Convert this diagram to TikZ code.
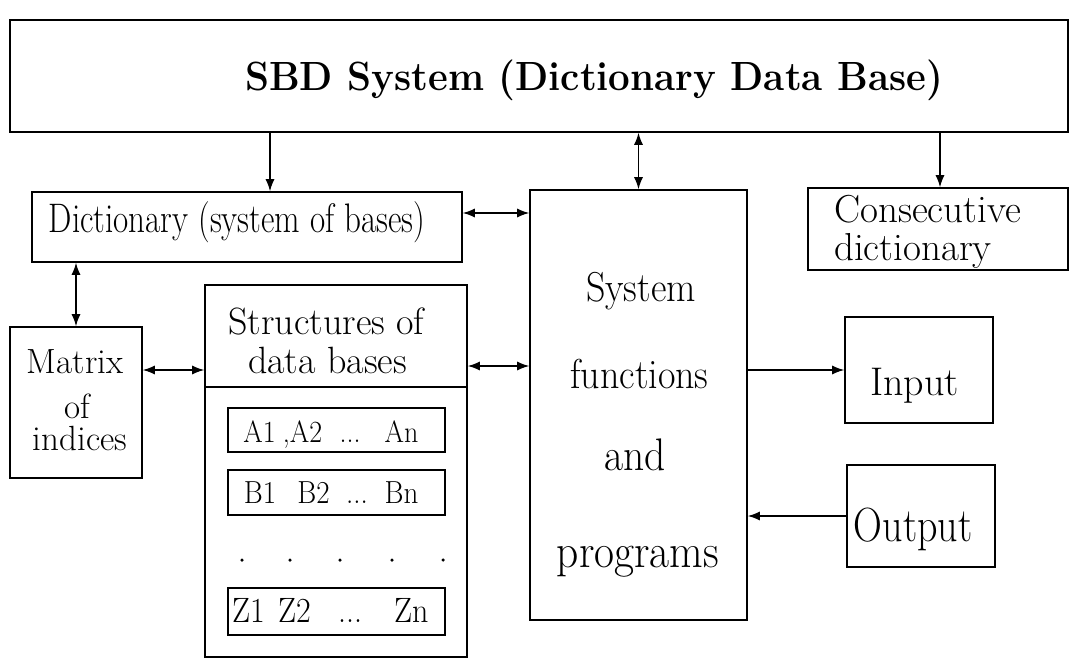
\documentclass[tikz,border=0pt]{standalone}
\usetikzlibrary{arrows.meta}
\newcommand{\tallt}[2][1.1]{\scalebox{1}[#1]{#2}}
\newcommand{\fs}[1]{\fontsize{#1}{#1}\selectfont}
\begin{document}
\begin{tikzpicture}[x=1pt,y=-1pt,
  box/.style={draw, line width=1.6pt, inner sep=0pt},
  txt/.style={inner sep=0pt},
  arr/.style={line width=1.2pt, -{Latex[length=12pt,width=9pt]}},
  barr/.style={line width=1.2pt, {Latex[length=12pt,width=9pt]}-{Latex[length=12pt,width=9pt]}},
  dotn/.style={circle, fill, inner sep=0pt, minimum size=3.5pt}]
\useasboundingbox (0,0) rectangle (1072,661);
% boxes
\node[box, minimum width=1058pt, minimum height=112pt] (top) at (539,76) {};
\node[box, minimum width=430pt, minimum height=70pt] (dict) at (247,227) {};
\node[box, minimum width=217pt, minimum height=430pt] (sys) at (638.5,405) {};
\node[box, minimum width=260pt, minimum height=82pt] (cons) at (938,229) {};
\node[box, minimum width=132pt, minimum height=151pt] (mat) at (76,402.5) {};
\node[box, minimum width=262pt, minimum height=372pt] (str) at (336,471) {};
\node[box, minimum width=217pt, minimum height=44pt] (ra) at (336.5,430) {};
\node[box, minimum width=217pt, minimum height=45pt] (rb) at (336.5,492.5) {};
\node[box, minimum width=217pt, minimum height=47pt] (rz) at (336.5,611.5) {};
\node[box, minimum width=148pt, minimum height=106pt] (inp) at (919,370) {};
\node[box, minimum width=148pt, minimum height=102pt] (out) at (921,516) {};
\coordinate (dv) at (0,387);
\draw[line width=1.6pt] (str.west |- dv) -- (str.east |- dv);
% texts
\node[txt, font=\fs{38.5}\bfseries] (ttlt) at (594,80) {\tallt[1.06]{SBD System (Dictionary Data Base)}};
\node[txt, font=\fs{33}] (dictt) at (237,222) {\tallt[1.25]{Dictionary (system of bases)}};
\node[txt, font=\fs{38}] (syst1) at (641,291) {\tallt{System}};
\node[txt, font=\fs{38}] (syst2) at (639.5,374) {\tallt{functions}};
\node[txt, font=\fs{41.5}] (syst3) at (635,455) {\tallt{and}};
\node[txt, font=\fs{43.5}] (syst4) at (638,562) {\tallt{programs}};
\node[txt, font=\fs{39}, anchor=base west] (const1) at (834,222) {Consecutive};
\node[txt, font=\fs{39}, anchor=base west] (const2) at (834,260) {dictionary};
\node[txt, font=\fs{35}, anchor=base] (matt1) at (75,373) {Matrix};
\node[txt, font=\fs{35}, anchor=base] (matt2) at (77,418) {of};
\node[txt, font=\fs{35}, anchor=base] (matt3) at (80,450) {indices};
\node[txt, font=\fs{38}, anchor=base] (strt1) at (326.5,334) {Structures of};
\node[txt, font=\fs{38}, anchor=base] (strt2) at (327.5,373) {data bases};
% row texts
\node[txt, font=\fs{28}, anchor=base] (a1) at (259.5,442) {\tallt{A1}};
\node[txt, font=\fs{28}, anchor=base] (a2) at (302.5,442) {\tallt{,A2}};
\node[txt, font=\fs{28}, anchor=base] (a3) at (350,442) {\tallt{...}};
\node[txt, font=\fs{28}, anchor=base] (a4) at (401.5,442) {\tallt{An}};
\node[txt, font=\fs{29}, anchor=base] (b1) at (260,503) {\tallt{B1}};
\node[txt, font=\fs{29}, anchor=base] (b2) at (313.5,503) {\tallt{B2}};
\node[txt, font=\fs{29}, anchor=base] (b3) at (357,503) {\tallt{...}};
\node[txt, font=\fs{29}, anchor=base] (b4) at (401.5,503) {\tallt{Bn}};
\node[txt, font=\fs{32}, anchor=base] (z1) at (249,622) {\tallt{Z1}};
\node[txt, font=\fs{32}, anchor=base] (z2) at (295,622) {\tallt{Z2}};
\node[txt, font=\fs{32}, anchor=base] (z3) at (350,622) {\tallt{...}};
\node[txt, font=\fs{32}, anchor=base] (z4) at (412,622) {\tallt{Zn}};
\node[txt, font=\fs{40}] (inpt) at (914.5,386) {Input};
\node[txt, font=\fs{40}] (outt) at (913,529) {\tallt[1.2]{Output}};
% dots
\node[dotn] (d1) at (242,560) {};
\node[dotn] (d2) at (290,560) {};
\node[dotn] (d3) at (340,560) {};
\node[dotn] (d4) at (392,560) {};
\node[dotn] (d5) at (443,560) {};
% connectors
\coordinate (xa) at (270,0);
\coordinate (xc) at (940,0);
\coordinate (yd) at (0,213);
\coordinate (ym) at (0,370);
\coordinate (ys) at (0,366);
\draw[arr] (xa |- top.south) -- (xa |- dict.north);
\draw[barr] (top.south -| sys.north) -- (sys.north);
\draw[arr] (xc |- top.south) -- (xc |- cons.north);
\draw[barr] (dict.east |- yd) -- (sys.west |- yd);
\draw[barr] (dict.south -| mat.north) -- (mat.north);
\draw[barr] (mat.east |- ym) -- (str.west |- ym);
\draw[barr] (str.east |- ys) -- (sys.west |- ys);
\draw[arr] (sys.east |- inp.west) -- (inp.west);
\draw[arr] (out.west) -- (sys.east |- out.west);
\end{tikzpicture}
\end{document}
